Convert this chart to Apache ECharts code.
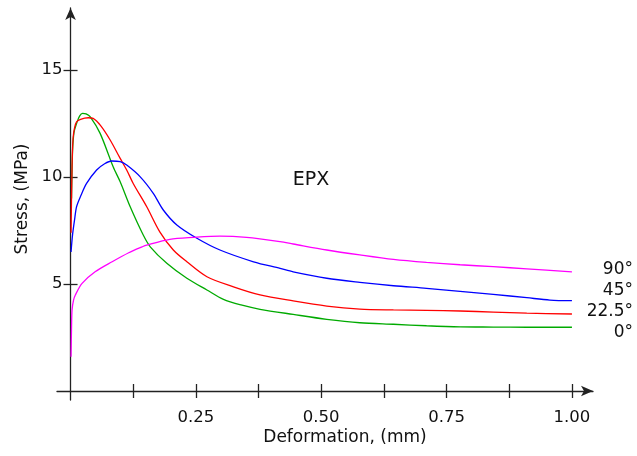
<!DOCTYPE html>
<html>
<head>
<meta charset="utf-8">
<title>EPX stress–deformation</title>
<script src="https://cdn.jsdelivr.net/npm/echarts@6/dist/echarts.min.js"></script>
<style>
  html, body { margin: 0; padding: 0; background: #fff; }
  #chart { width: 637px; height: 456px; }
</style>
</head>
<body>
<div id="chart"></div>
<script>
// Stress (MPa) versus deformation (mm) for EPX specimens at four fibre angles.
const curveNames = ['0°', '22.5°', '45°', '90°'];
const curveColors = ['#00aa00', '#ff0000', '#0000ff', '#ff00ff'];

const curve0 = [
  [0.002, 9.0], [0.004, 11.2], [0.007, 12.1], [0.012, 12.5], [0.018, 12.85],
  [0.024, 12.98], [0.031, 12.95], [0.039, 12.82], [0.059, 12.04], [0.085, 10.48],
  [0.099, 9.78], [0.119, 8.61], [0.145, 7.29], [0.159, 6.74], [0.192, 5.97],
  [0.232, 5.27], [0.272, 4.72], [0.305, 4.28], [0.34, 4.02], [0.378, 3.82],
  [0.444, 3.58], [0.511, 3.35], [0.577, 3.19], [0.644, 3.12], [0.71, 3.05],
  [0.777, 3.0], [0.843, 2.99], [0.91, 2.98], [1.0, 2.98]
];
const curve22 = [
  [0.001, 7.4], [0.003, 10.5], [0.005, 11.8], [0.008, 12.3], [0.012, 12.58],
  [0.02, 12.7], [0.0355, 12.77], [0.045, 12.74], [0.06, 12.4], [0.079, 11.73],
  [0.099, 10.87], [0.112, 10.33], [0.125, 9.7], [0.152, 8.61], [0.178, 7.44],
  [0.205, 6.59], [0.232, 6.04], [0.272, 5.34], [0.325, 4.87], [0.378, 4.49],
  [0.444, 4.21], [0.511, 3.97], [0.577, 3.83], [0.644, 3.79], [0.71, 3.77],
  [0.777, 3.74], [0.843, 3.69], [0.91, 3.64], [1.0, 3.6]
];
const curve45 = [
  [0.001, 6.5], [0.004, 7.3], [0.008, 8.0], [0.012, 8.61], [0.02, 9.1],
  [0.032, 9.7], [0.052, 10.33], [0.068, 10.62], [0.082, 10.75], [0.099, 10.72],
  [0.112, 10.56], [0.139, 10.01], [0.165, 9.24], [0.185, 8.46], [0.212, 7.76],
  [0.252, 7.14], [0.298, 6.59], [0.365, 6.04], [0.418, 5.73], [0.444, 5.57],
  [0.511, 5.27], [0.577, 5.08], [0.644, 4.92], [0.71, 4.8], [0.777, 4.66],
  [0.843, 4.52], [0.91, 4.36], [0.956, 4.25], [1.0, 4.22]
];
const curve90 = [
  [0.001, 1.6], [0.002, 3.0], [0.003, 3.79], [0.006, 4.25], [0.0096, 4.49],
  [0.023, 5.03], [0.049, 5.57], [0.083, 6.04], [0.116, 6.46], [0.143, 6.74],
  [0.152, 6.82], [0.198, 7.09], [0.245, 7.18], [0.298, 7.24], [0.351, 7.18],
  [0.418, 6.98], [0.444, 6.87], [0.511, 6.59], [0.577, 6.36], [0.644, 6.15],
  [0.71, 6.01], [0.777, 5.9], [0.843, 5.81], [0.91, 5.71], [1.0, 5.57]
];
const curves = [curve0, curve22, curve45, curve90];

const xTicks = [0.125, 0.25, 0.375, 0.5, 0.625, 0.75, 0.875, 1.0];
const xTickLabels = [0.25, 0.5, 0.75, 1.0];
const yTicks = [5, 10, 15];

const FONT = '"DejaVu Sans", "Liberation Sans", sans-serif';
const INK = '#222';

const chart = echarts.init(document.getElementById('chart'), null, { renderer: 'canvas' });

// Grid 0 holds the curves and the axis lines, which run a little past the
// origin. Grid 1 shares the same scales but starts exactly at the origin, so
// its edge axes sit on the zero lines and add the outer tick halves + labels.
const X_MAX = 1.042, Y_MAX = 17.9;
const X_NEG = -0.027, Y_NEG = -0.42;

const tickStyle = { color: INK, width: 1.3 };
const labelStyle = { color: '#111', fontFamily: FONT, fontSize: 16.5 };

chart.setOption({
  animation: false,
  backgroundColor: '#fff',
  grid: [
    { left: 57, right: 44, top: 8, bottom: 56, containLabel: false },
    { left: 70.5, right: 44, top: 8, bottom: 65, containLabel: false }
  ],
  xAxis: [
    {
      gridIndex: 0, type: 'value', min: X_NEG, max: X_MAX,
      splitLine: { show: false },
      axisLine: { show: true, onZero: true, symbol: ['none', 'arrow'], symbolSize: [8, 12], lineStyle: tickStyle },
      axisTick: { show: true, inside: true, length: 7, customValues: xTicks, lineStyle: tickStyle },
      axisLabel: { show: false }
    },
    {
      gridIndex: 1, type: 'value', position: 'bottom', min: 0, max: X_MAX,
      splitLine: { show: false },
      axisLine: { show: false, onZero: false },
      axisTick: { show: true, inside: false, length: 7, customValues: xTicks, lineStyle: tickStyle },
      axisLabel: { show: true, customValues: xTickLabels, margin: 18, formatter: v => v.toFixed(2), ...labelStyle }
    }
  ],
  yAxis: [
    {
      gridIndex: 0, type: 'value', min: Y_NEG, max: Y_MAX,
      splitLine: { show: false },
      axisLine: { show: true, onZero: true, symbol: ['none', 'arrow'], symbolSize: [8, 12], lineStyle: tickStyle },
      axisTick: { show: true, inside: true, length: 7, customValues: yTicks, lineStyle: tickStyle },
      axisLabel: { show: false }
    },
    {
      gridIndex: 1, type: 'value', position: 'left', min: 0, max: Y_MAX,
      splitLine: { show: false },
      axisLine: { show: false, onZero: false },
      axisTick: { show: true, inside: false, length: 7, customValues: yTicks, lineStyle: tickStyle },
      axisLabel: { show: true, customValues: yTicks, margin: 8, ...labelStyle }
    }
  ],
  series: curves.map((d, i) => ({
    name: curveNames[i],
    type: 'line',
    xAxisIndex: 0,
    yAxisIndex: 0,
    data: d,
    showSymbol: false,
    smooth: 0.3,
    clip: false,
    lineStyle: { color: curveColors[i], width: 1.3 },
    z: 3
  })),
  graphic: [
    {
      type: 'text', x: 311, y: 180,
      style: { text: 'EPX', fontFamily: FONT, fontSize: 19, fill: '#111', align: 'center', verticalAlign: 'middle' }
    },
    {
      type: 'text', x: 345, y: 438,
      style: { text: 'Deformation, (mm)', fontFamily: FONT, fontSize: 17, fill: '#111', align: 'center', verticalAlign: 'middle' }
    },
    {
      type: 'text', x: 23, y: 199, rotation: Math.PI / 2,
      style: { text: 'Stress, (MPa)', fontFamily: FONT, fontSize: 17, fill: '#111', align: 'center', verticalAlign: 'middle' }
    },
    ...[
      { text: '90°', y: 270 },
      { text: '45°', y: 291 },
      { text: '22.5°', y: 311.5 },
      { text: '0°', y: 333 }
    ].map(s => ({
      type: 'text', x: 633, y: s.y,
      style: { text: s.text, fontFamily: FONT, fontSize: 17, fill: '#111', align: 'right', verticalAlign: 'middle' }
    })),
    {
      type: 'rect', z: 100,
      shape: { x: 0, y: 446, width: 637, height: 10 },
      style: { fill: '#fff' }
    }
  ]
});
</script>
</body>
</html>
